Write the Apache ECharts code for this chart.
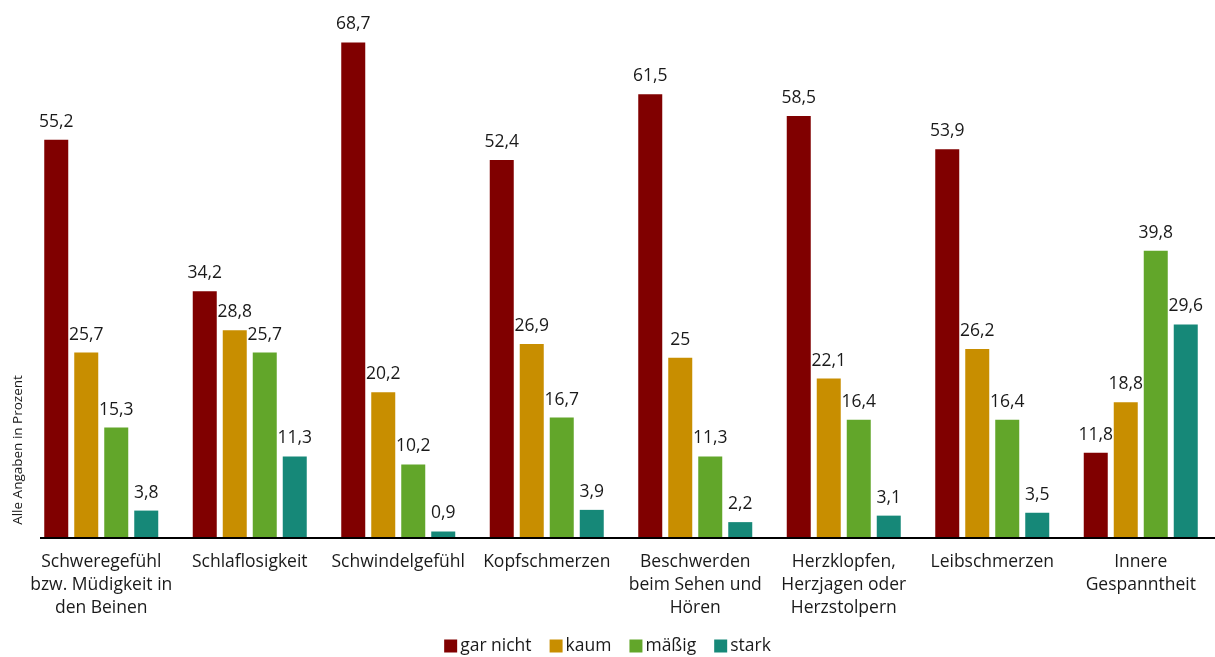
<!DOCTYPE html>
<html><head><meta charset="utf-8">
<script src="https://cdn.jsdelivr.net/npm/echarts@6/dist/echarts.min.js"></script>
<style>html,body{margin:0;padding:0;background:#fff}#c{width:1215px;height:657px}</style>
</head><body><div id="c"></div>
<script>
const categories = ["Schweregefühl\nbzw. Müdigkeit in\nden Beinen","Schlaflosigkeit","Schwindelgefühl","Kopfschmerzen","Beschwerden\nbeim Sehen und\nHören","Herzklopfen,\nHerzjagen oder\nHerzstolpern","Leibschmerzen","Innere\nGespanntheit"];
const garNicht = [55.2, 34.2, 68.7, 52.4, 61.5, 58.5, 53.9, 11.8];
const kaum = [25.7, 28.8, 20.2, 26.9, 25, 22.1, 26.2, 18.8];
const maessig = [15.3, 25.7, 10.2, 16.7, 11.3, 16.4, 16.4, 39.8];
const stark = [3.8, 11.3, 0.9, 3.9, 2.2, 3.1, 3.5, 29.6];
const seriesNames = ["gar nicht","kaum","mäßig","stark"];
const colors = ["#800000","#C88E00","#62A62A","#168878"];
const FONT = "'Open Sans', 'Noto Sans', sans-serif";
const chart = echarts.init(document.getElementById('c'));
function mk(name, data, color){
  return {name, type:'bar', data, barWidth:24, barGap:'25%',
    itemStyle:{color},
    label:{show:true, position:'top', distance:9, color:'#1a1a1a', fontSize:17.5, fontFamily:FONT,
      formatter:p=>String(p.value).replace('.',',')}};
}
chart.setOption({
  animation:false,
  textStyle:{fontFamily:FONT},
  grid:{left:27, width:1191, top:33, height:505, containLabel:false},
  xAxis:{type:'category', data:categories,
    axisLine:{show:false},
    axisTick:{show:false},
    axisLabel:{interval:0, color:'#1a1a1a', fontSize:17.5, lineHeight:23, margin:13, fontFamily:FONT}},
  yAxis:{type:'value', min:0, max:70, show:true,
    axisLine:{show:false}, axisTick:{show:false}, axisLabel:{show:false}, splitLine:{show:false}},
  legend:{bottom:-3, left:'center', itemWidth:13, itemHeight:13, itemGap:18, icon:'rect',
    textStyle:{fontSize:17.5, color:'#1a1a1a', fontFamily:FONT, padding:[0,0,0,-2]}, data:seriesNames},
  graphic:[
    {type:'line', shape:{x1:40, y1:538, x2:1215, y2:538}, style:{stroke:'#000', lineWidth:2}, z:10},
    {type:'text', x:18, y:450, rotation:Math.PI/2,
    style:{text:'Alle Angaben in Prozent', fontSize:13.5, fill:'#1a1a1a', fontFamily:FONT, textAlign:'center', textVerticalAlign:'middle'}}],
  series:[mk(seriesNames[0],garNicht,colors[0]),mk(seriesNames[1],kaum,colors[1]),mk(seriesNames[2],maessig,colors[2]),mk(seriesNames[3],stark,colors[3])]
});
</script></body></html>
